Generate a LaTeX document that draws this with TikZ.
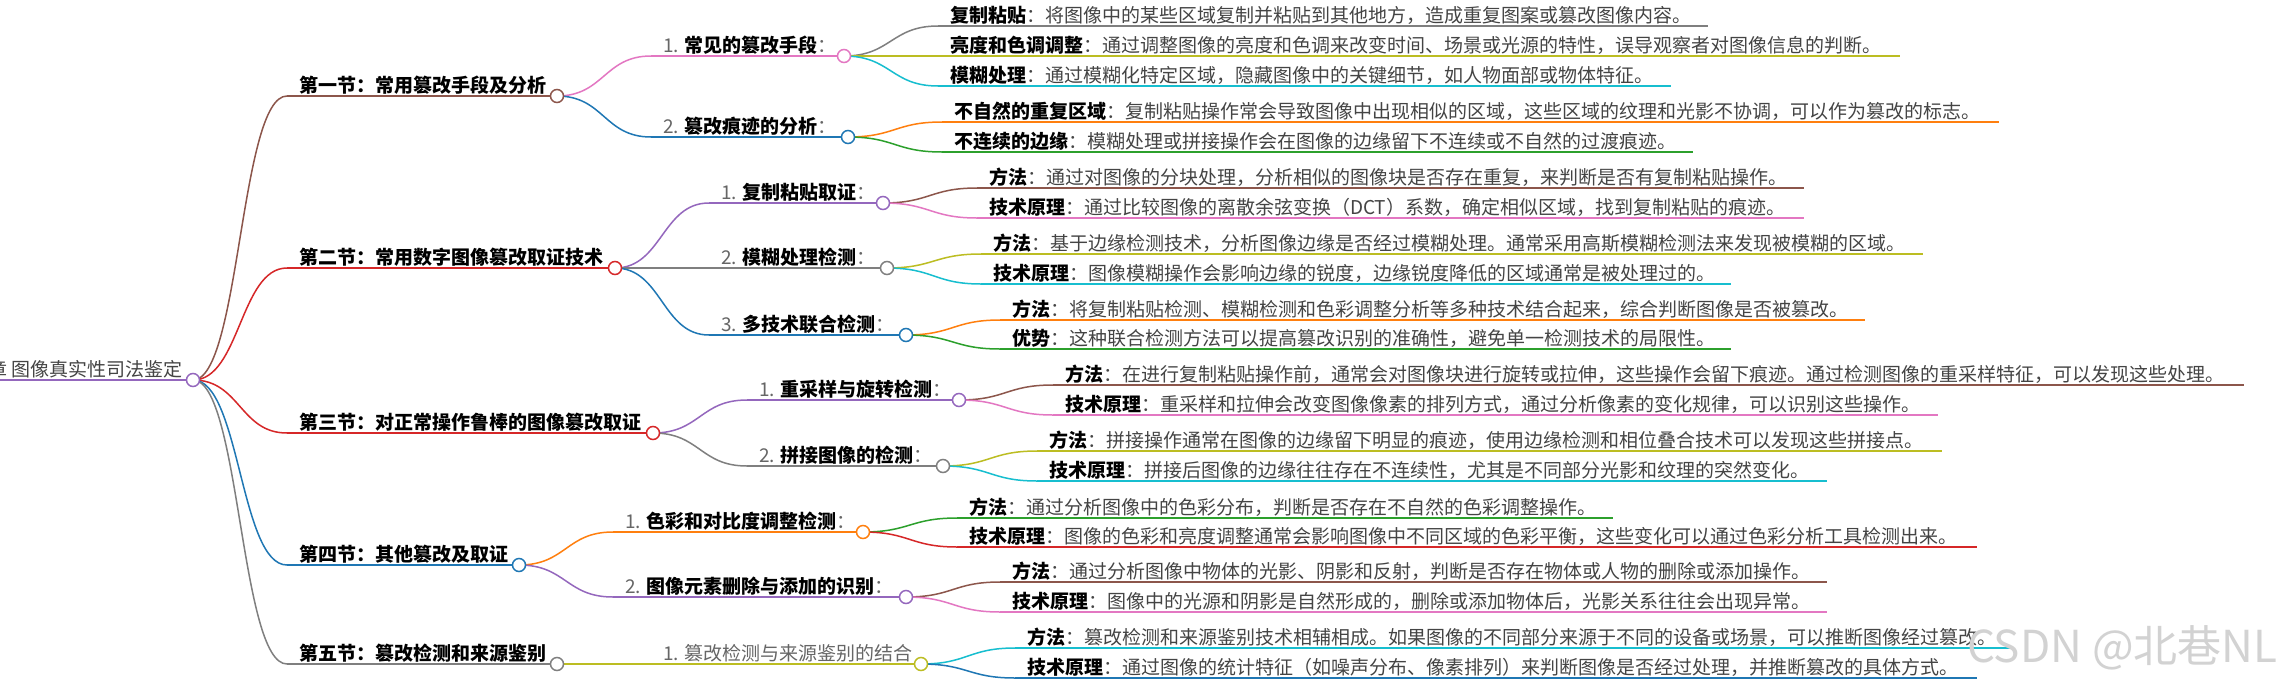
\documentclass[tikz,border=0pt]{standalone}
\usepackage{fontspec}
\setmainfont{Noto Sans CJK SC}
\usetikzlibrary{calc}
\definecolor{mmbrown}{HTML}{8C564B}
\definecolor{mmred}{HTML}{D62728}
\definecolor{mmblue}{HTML}{1F77B4}
\definecolor{mmgray}{HTML}{7F7F7F}
\definecolor{mmpink}{HTML}{E377C2}
\definecolor{mmolive}{HTML}{BCBD22}
\definecolor{mmcyan}{HTML}{17BECF}
\definecolor{mmorange}{HTML}{FF7F0E}
\definecolor{mmgreen}{HTML}{2CA02C}
\definecolor{mmpurple}{HTML}{9467BD}
\definecolor{txtgray}{HTML}{444444}
\definecolor{numgray}{HTML}{666666}
\definecolor{wmgray}{HTML}{D2D2D2}
\tikzset{
  every node/.style={inner sep=0pt, outer sep=0pt, font=\fontsize{19}{22}\selectfont},
  link/.style={draw=#1, line width=1.5pt},
  uline/.style={draw=#1, line width=1.7pt},
  dot/.style={circle, draw=#1, fill=white, line width=1.5pt, minimum size=13pt, inner sep=0pt},
  lbl/.style={anchor=base west},
  wmark/.style={anchor=base west, text=wmgray, font=\fontsize{44}{48}\selectfont}
}
% #1 name, #2 parent, #3 line start x, #4 y, #5 line end x, #6 colour
\newcommand\mmbranch[6]{%
  \coordinate (l-#1) at (#3,#4);
  \coordinate (e-#1) at (#5,#4);
  \draw[link=#6] let \p1=(e-#2), \p2=(l-#1) in (\p1) .. controls ({(\x1+\x2)/2},\y1) and ({(\x1+\x2)/2},\y2) .. (\p2);
  \draw[uline=#6] (l-#1) -- (e-#1);
}
\newcommand\lvtwo[2]{{\color{numgray}#1 }{\bfseries #2}{\color{numgray}：}}
\newcommand\leaftx[2]{{\bfseries #1}{\color{txtgray}：#2}}
\begin{document}
\begin{tikzpicture}[x=1pt,y=-1pt]
\fill[white] (0,0) rectangle (2276,686);
\useasboundingbox (0,0) rectangle (2276,686);

% root
\coordinate (l-root) at (-5,380);
\coordinate (e-root) at (193,380);
\draw[uline=mmpurple] (l-root) -- (e-root);
\node[anchor=base east, text=txtgray] (t-root) at (183,376) {章 图像真实性司法鉴定};

% sections
\mmbranch{s1}{root}{287}{96}{557}{mmbrown}
\mmbranch{s2}{root}{287}{268}{615}{mmred}
\mmbranch{s3}{root}{287}{433}{653}{mmred}
\mmbranch{s4}{root}{287}{565}{519}{mmblue}
\mmbranch{s5}{root}{287}{664}{557}{mmgray}

% level 2
\mmbranch{s1a}{s1}{651}{56}{844}{mmpink}
\mmbranch{s1b}{s1}{651}{137}{848}{mmblue}
\mmbranch{s2a}{s2}{709}{203}{883}{mmpurple}
\mmbranch{s2b}{s2}{709}{268}{887}{mmgray}
\mmbranch{s2c}{s2}{709}{335}{906}{mmblue}
\mmbranch{s3a}{s3}{747}{400}{959}{mmpurple}
\mmbranch{s3b}{s3}{747}{466}{943}{mmgray}
\mmbranch{s4a}{s4}{613}{532}{863}{mmorange}
\mmbranch{s4b}{s4}{613}{597}{906}{mmpurple}
\mmbranch{s5a}{s5}{651}{664}{921}{mmolive}

% leaves
\mmbranch{s1a1}{s1a}{938}{26}{1708}{mmgray}
\mmbranch{s1a2}{s1a}{938}{56}{1900}{mmolive}
\mmbranch{s1a3}{s1a}{938}{86}{1671}{mmcyan}
\mmbranch{s1b1}{s1b}{942}{122}{1999}{mmorange}
\mmbranch{s1b2}{s1b}{942}{152}{1693}{mmgreen}
\mmbranch{s2a1}{s2a}{977}{188}{1804}{mmbrown}
\mmbranch{s2a2}{s2a}{977}{218}{1804}{mmpink}
\mmbranch{s2b1}{s2b}{981}{254}{1923}{mmolive}
\mmbranch{s2b2}{s2b}{981}{284}{1731}{mmcyan}
\mmbranch{s2c1}{s2c}{1000}{320}{1865}{mmorange}
\mmbranch{s2c2}{s2c}{1000}{349}{1731}{mmgreen}
\mmbranch{s3a1}{s3a}{1053}{385}{2244}{mmbrown}
\mmbranch{s3a2}{s3a}{1053}{415}{1938}{mmpink}
\mmbranch{s3b1}{s3b}{1037}{451}{1942}{mmolive}
\mmbranch{s3b2}{s3b}{1037}{481}{1827}{mmcyan}
\mmbranch{s4a1}{s4a}{957}{518}{1613}{mmgreen}
\mmbranch{s4a2}{s4a}{957}{547}{1977}{mmred}
\mmbranch{s4b1}{s4b}{1000}{582}{1827}{mmbrown}
\mmbranch{s4b2}{s4b}{1000}{612}{1827}{mmpink}
\mmbranch{s5a1}{s5a}{1015}{648}{2012}{mmcyan}
\mmbranch{s5a2}{s5a}{1015}{678}{1977}{mmblue}

% circles
\node[dot=mmpurple] (n-root) at (e-root) {};
\node[dot=mmbrown] (n-s1) at (e-s1) {};
\node[dot=mmred] (n-s2) at (e-s2) {};
\node[dot=mmred] (n-s3) at (e-s3) {};
\node[dot=mmblue] (n-s4) at (e-s4) {};
\node[dot=mmgray] (n-s5) at (e-s5) {};
\node[dot=mmpink] (n-s1a) at (e-s1a) {};
\node[dot=mmblue] (n-s1b) at (e-s1b) {};
\node[dot=mmpurple] (n-s2a) at (e-s2a) {};
\node[dot=mmgray] (n-s2b) at (e-s2b) {};
\node[dot=mmblue] (n-s2c) at (e-s2c) {};
\node[dot=mmpurple] (n-s3a) at (e-s3a) {};
\node[dot=mmgray] (n-s3b) at (e-s3b) {};
\node[dot=mmorange] (n-s4a) at (e-s4a) {};
\node[dot=mmpurple] (n-s4b) at (e-s4b) {};
\node[dot=mmolive] (n-s5a) at (e-s5a) {};

% section texts
\node[lbl] (t-s1) at ($(l-s1)+(12,-4)$) {\bfseries 第一节：常用篡改手段及分析};
\node[lbl] (t-s2) at ($(l-s2)+(12,-4)$) {\bfseries 第二节：常用数字图像篡改取证技术};
\node[lbl] (t-s3) at ($(l-s3)+(12,-4)$) {\bfseries 第三节：对正常操作鲁棒的图像篡改取证};
\node[lbl] (t-s4) at ($(l-s4)+(12,-4)$) {\bfseries 第四节：其他篡改及取证};
\node[lbl] (t-s5) at ($(l-s5)+(12,-4)$) {\bfseries 第五节：篡改检测和来源鉴别};

% level 2 texts
\node[lbl] (t-s1a) at ($(l-s1a)+(12,-4)$) {\lvtwo{1.}{常见的篡改手段}};
\node[lbl] (t-s1b) at ($(l-s1b)+(12,-4)$) {\lvtwo{2.}{篡改痕迹的分析}};
\node[lbl] (t-s2a) at ($(l-s2a)+(12,-4)$) {\lvtwo{1.}{复制粘贴取证}};
\node[lbl] (t-s2b) at ($(l-s2b)+(12,-4)$) {\lvtwo{2.}{模糊处理检测}};
\node[lbl] (t-s2c) at ($(l-s2c)+(12,-4)$) {\lvtwo{3.}{多技术联合检测}};
\node[lbl] (t-s3a) at ($(l-s3a)+(12,-4)$) {\lvtwo{1.}{重采样与旋转检测}};
\node[lbl] (t-s3b) at ($(l-s3b)+(12,-4)$) {\lvtwo{2.}{拼接图像的检测}};
\node[lbl] (t-s4a) at ($(l-s4a)+(12,-4)$) {\lvtwo{1.}{色彩和对比度调整检测}};
\node[lbl] (t-s4b) at ($(l-s4b)+(12,-4)$) {\lvtwo{2.}{图像元素删除与添加的识别}};
\node[lbl, text=numgray] (t-s5a) at ($(l-s5a)+(12,-4)$) {1. 篡改检测与来源鉴别的结合};

% leaf texts
\node[lbl] (t-s1a1) at ($(l-s1a1)+(12,-4)$) {\leaftx{复制粘贴}{将图像中的某些区域复制并粘贴到其他地方，造成重复图案或篡改图像内容。}};
\node[lbl] (t-s1a2) at ($(l-s1a2)+(12,-4)$) {\leaftx{亮度和色调调整}{通过调整图像的亮度和色调来改变时间、场景或光源的特性，误导观察者对图像信息的判断。}};
\node[lbl] (t-s1a3) at ($(l-s1a3)+(12,-4)$) {\leaftx{模糊处理}{通过模糊化特定区域，隐藏图像中的关键细节，如人物面部或物体特征。}};
\node[lbl] (t-s1b1) at ($(l-s1b1)+(12,-4)$) {\leaftx{不自然的重复区域}{复制粘贴操作常会导致图像中出现相似的区域，这些区域的纹理和光影不协调，可以作为篡改的标志。}};
\node[lbl] (t-s1b2) at ($(l-s1b2)+(12,-4)$) {\leaftx{不连续的边缘}{模糊处理或拼接操作会在图像的边缘留下不连续或不自然的过渡痕迹。}};
\node[lbl] (t-s2a1) at ($(l-s2a1)+(12,-4)$) {\leaftx{方法}{通过对图像的分块处理，分析相似的图像块是否存在重复，来判断是否有复制粘贴操作。}};
\node[lbl] (t-s2a2) at ($(l-s2a2)+(12,-4)$) {\leaftx{技术原理}{通过比较图像的离散余弦变换（DCT）系数，确定相似区域，找到复制粘贴的痕迹。}};
\node[lbl] (t-s2b1) at ($(l-s2b1)+(12,-4)$) {\leaftx{方法}{基于边缘检测技术，分析图像边缘是否经过模糊处理。通常采用高斯模糊检测法来发现被模糊的区域。}};
\node[lbl] (t-s2b2) at ($(l-s2b2)+(12,-4)$) {\leaftx{技术原理}{图像模糊操作会影响边缘的锐度，边缘锐度降低的区域通常是被处理过的。}};
\node[lbl] (t-s2c1) at ($(l-s2c1)+(12,-4)$) {\leaftx{方法}{将复制粘贴检测、模糊检测和色彩调整分析等多种技术结合起来，综合判断图像是否被篡改。}};
\node[lbl] (t-s2c2) at ($(l-s2c2)+(12,-4)$) {\leaftx{优势}{这种联合检测方法可以提高篡改识别的准确性，避免单一检测技术的局限性。}};
\node[lbl] (t-s3a1) at ($(l-s3a1)+(12,-4)$) {\leaftx{方法}{在进行复制粘贴操作前，通常会对图像块进行旋转或拉伸，这些操作会留下痕迹。通过检测图像的重采样特征，可以发现这些处理。}};
\node[lbl] (t-s3a2) at ($(l-s3a2)+(12,-4)$) {\leaftx{技术原理}{重采样和拉伸会改变图像像素的排列方式，通过分析像素的变化规律，可以识别这些操作。}};
\node[lbl] (t-s3b1) at ($(l-s3b1)+(12,-4)$) {\leaftx{方法}{拼接操作通常在图像的边缘留下明显的痕迹，使用边缘检测和相位叠合技术可以发现这些拼接点。}};
\node[lbl] (t-s3b2) at ($(l-s3b2)+(12,-4)$) {\leaftx{技术原理}{拼接后图像的边缘往往存在不连续性，尤其是不同部分光影和纹理的突然变化。}};
\node[lbl] (t-s4a1) at ($(l-s4a1)+(12,-4)$) {\leaftx{方法}{通过分析图像中的色彩分布，判断是否存在不自然的色彩调整操作。}};
\node[lbl] (t-s4a2) at ($(l-s4a2)+(12,-4)$) {\leaftx{技术原理}{图像的色彩和亮度调整通常会影响图像中不同区域的色彩平衡，这些变化可以通过色彩分析工具检测出来。}};
\node[lbl] (t-s4b1) at ($(l-s4b1)+(12,-4)$) {\leaftx{方法}{通过分析图像中物体的光影、阴影和反射，判断是否存在物体或人物的删除或添加操作。}};
\node[lbl] (t-s4b2) at ($(l-s4b2)+(12,-4)$) {\leaftx{技术原理}{图像中的光源和阴影是自然形成的，删除或添加物体后，光影关系往往会出现异常。}};
\node[lbl] (t-s5a1) at ($(l-s5a1)+(12,-4)$) {\leaftx{方法}{篡改检测和来源鉴别技术相辅相成。如果图像的不同部分来源于不同的设备或场景，可以推断图像经过篡改。}};
\node[lbl] (t-s5a2) at ($(l-s5a2)+(12,-4)$) {\leaftx{技术原理}{通过图像的统计特征（如噪声分布、像素排列）来判断图像是否经过处理，并推断篡改的具体方式。}};

% watermark
\node[wmark] (wm) at (1967,662) {CSDN @北巷NL};
\end{tikzpicture}
\end{document}
